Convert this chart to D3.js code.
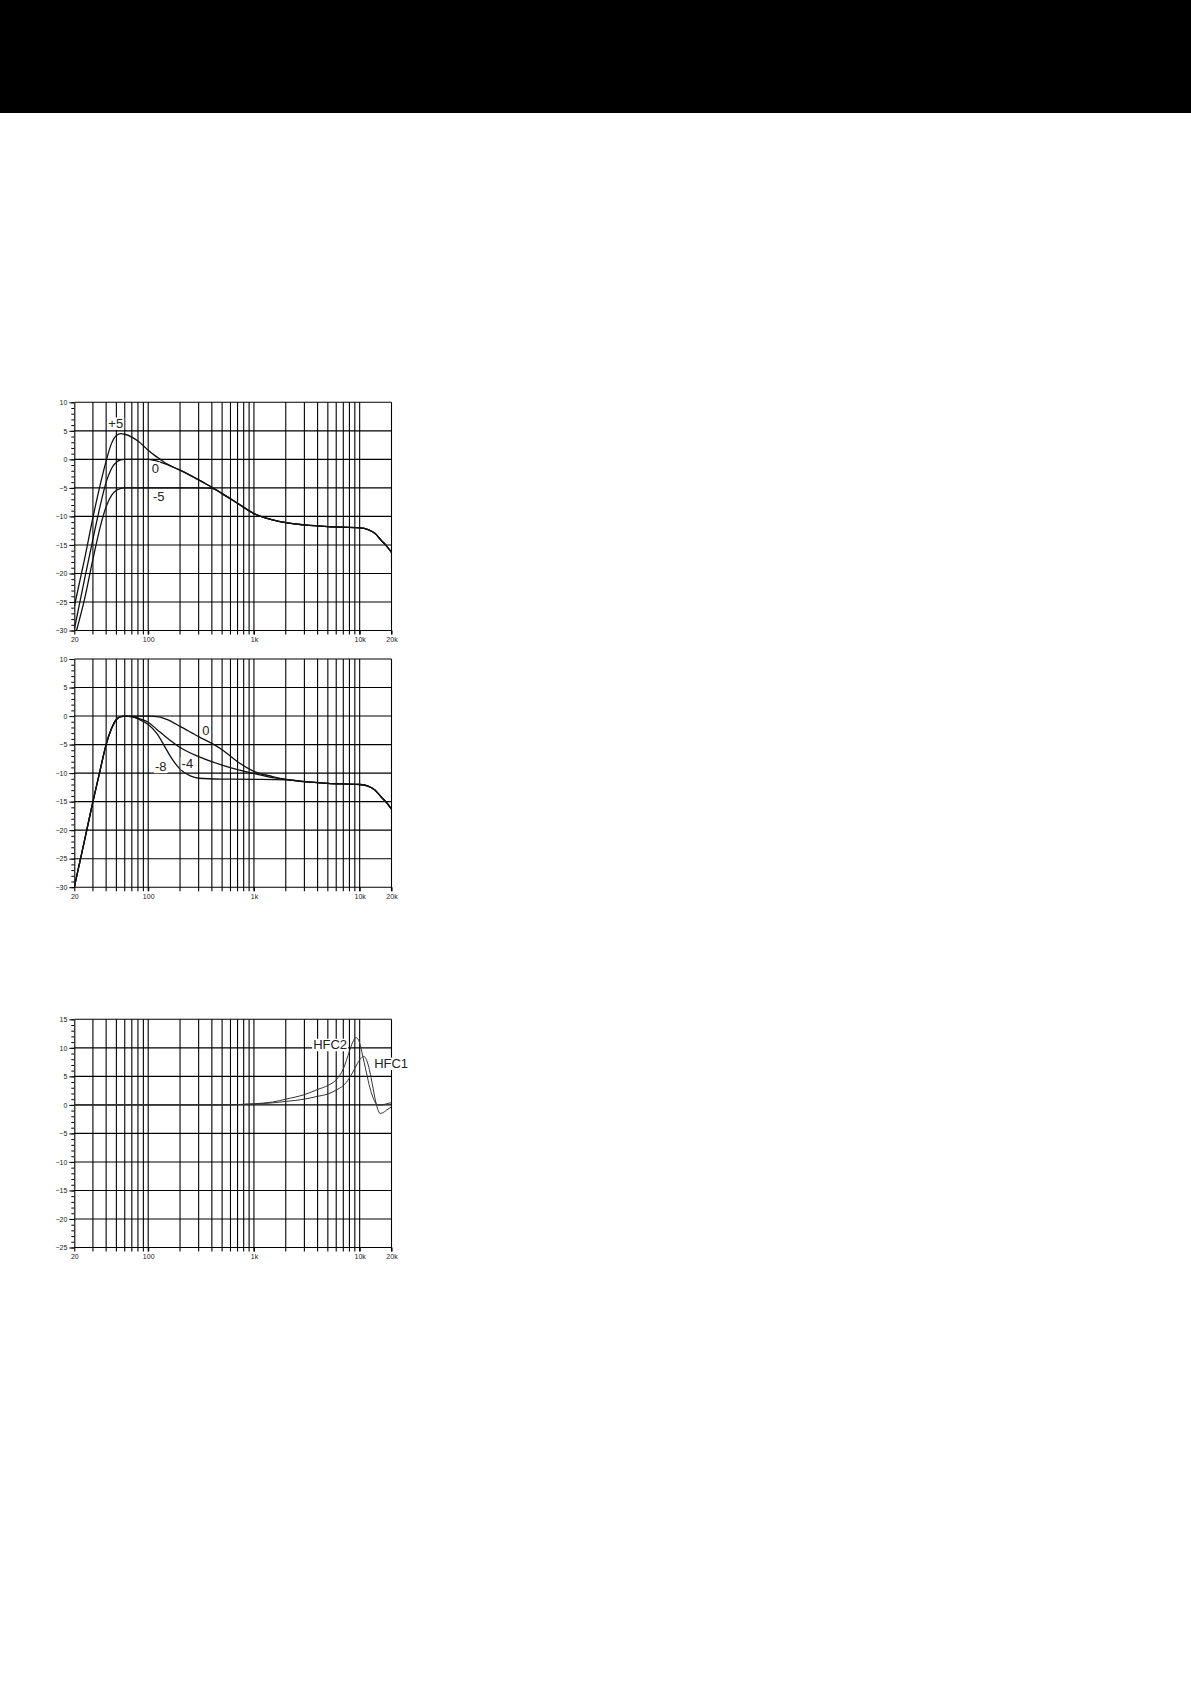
<!DOCTYPE html>
<html lang="en">
<head>
<meta charset="utf-8">
<title>frequency response</title>
<script src="https://cdnjs.cloudflare.com/ajax/libs/d3/7.8.5/d3.min.js"></script>
<style>
  body { margin: 0; background: #fff; }
  svg { display: block; }
</style>
</head>
<body>
<script>
// values, [Hz, dB]
var xTickVals = [20, 100, 1000, 10000, 20000];
var xTickLabels = ["20", "100", "1k", "10k", "20k"];
var gridFreqs = [30, 40, 50, 60, 70, 80, 90, 100, 200, 300, 400, 500, 600, 700, 800, 900,
                 1000, 2000, 3000, 4000, 5000, 6000, 7000, 8000, 9000, 10000, 20000];
var yTicksA = [10, 5, 0, -5, -10, -15, -20, -25, -30];
var yTicksB = [15, 10, 5, 0, -5, -10, -15, -20, -25];

// top: bass level
var bassPlus5 = [[20,-25.8],[25,-17.5],[30,-10.2],[35,-4.6],[40,-0.3],[45,2.8],[50,4.2],[55,4.5],[60,4.4],
  [70,3.9],[80,3.2],[90,2.4],[100,1.6],[115,0.7],[130,0.0],[150,-0.8],[200,-1.9],[300,-3.6],[400,-4.9],
  [500,-6.0],[700,-7.7],[1000,-9.5],[1500,-10.6],[2000,-11.1],[3000,-11.5],[5000,-11.8],[10000,-12],
  [12000,-12.3],[14000,-13],[16000,-14.2],[18000,-15.2],[20000,-16.3]];
var bass0 = [[20,-29.8],[25,-21],[30,-14],[35,-8.3],[40,-4],[45,-1.6],[50,-0.5],[55,-0.1],[60,0],[80,0],
  [100,0],[115,-0.2],[130,-0.5],[150,-0.9],[200,-1.9],[300,-3.6],[400,-4.9],[500,-6.0],[700,-7.7],
  [1000,-9.5],[1500,-10.6],[2000,-11.1],[3000,-11.5],[5000,-11.8],[10000,-12],[12000,-12.3],[14000,-13],
  [16000,-14.2],[18000,-15.2],[20000,-16.3]];
var bassMinus5 = [[21,-30],[25,-24.5],[30,-17.5],[35,-12],[40,-8.3],[45,-6.3],[50,-5.4],[55,-5.1],[60,-5],
  [100,-5],[200,-5],[300,-5],[360,-5.05],[420,-5.2],[500,-6.0],[700,-7.7],[1000,-9.5],[1500,-10.6],
  [2000,-11.1],[3000,-11.5],[5000,-11.8],[10000,-12],[12000,-12.3],[14000,-13],[16000,-14.2],
  [18000,-15.2],[20000,-16.3]];

// middle: low-mid level
var mid0 = [[20,-30],[25,-21.8],[30,-15],[35,-9.6],[40,-5],[45,-2.2],[50,-0.6],[55,-0.1],[60,0],[70,0],
  [100,0],[130,-0.2],[150,-0.6],[200,-1.8],[300,-3.6],[400,-4.8],[500,-5.9],[700,-8],[1000,-9.7],
  [1500,-10.6],[2000,-11.1],[3000,-11.5],[5000,-11.8],[10000,-12],[12000,-12.3],[14000,-13],
  [16000,-14.2],[18000,-15.2],[20000,-16.3]];
var midMinus4 = [[20,-30],[25,-21.8],[30,-15],[35,-9.6],[40,-5],[45,-2.2],[50,-0.6],[55,-0.1],[62,0],
  [70,-0.1],[80,-0.35],[100,-1.1],[120,-2.3],[150,-3.8],[200,-5.5],[300,-7.1],[500,-8.6],[700,-9.4],
  [1000,-10.1],[1500,-10.8],[2000,-11.1],[3000,-11.5],[5000,-11.8],[10000,-12],[12000,-12.3],
  [14000,-13],[16000,-14.2],[18000,-15.2],[20000,-16.3]];
var midMinus8 = [[20,-30],[25,-21.8],[30,-15],[35,-9.6],[40,-5],[45,-2.2],[50,-0.6],[55,-0.1],[62,0],
  [70,-0.15],[80,-0.5],[100,-1.5],[120,-3.0],[140,-5.0],[160,-6.9],[180,-8.3],[200,-9.3],[250,-10.5],
  [300,-10.9],[500,-11.05],[1000,-11.1],[2000,-11.2],[3000,-11.5],[5000,-11.8],[10000,-12],
  [12000,-12.3],[14000,-13],[16000,-14.2],[18000,-15.2],[20000,-16.3]];

// bottom: high-frequency correction
var hfc1 = [[20,0],[200,0],[500,0],[1000,0.15],[1500,0.35],[2000,0.6],[3000,1.0],[4000,1.5],[5000,1.9],
  [6000,2.6],[7000,3.4],[8000,4.7],[9000,6.4],[10000,7.9],[10900,8.5],[11600,7.9],[12200,6.6],
  [12800,4.8],[13400,2.9],[14000,1.0],[14800,-0.7],[15600,-1.5],[16500,-1.4],[18000,-0.9],[20000,-0.35]];
var hfc2 = [[20,0],[200,0],[500,0],[1000,0.2],[1500,0.5],[2000,1.0],[3000,1.8],[4000,2.7],[5000,3.4],
  [6000,4.4],[7000,6.3],[8000,9.4],[8600,11.0],[9200,11.8],[9800,11.3],[10500,9.2],[11600,5.6],
  [12500,3.0],[13300,1.4],[14200,0.3],[15000,-0.05],[16500,0],[18000,0.2],[20000,0.4]];

// curve names and where they sit (Hz, dB of the text baseline)
var namesTop = ["+5", "0", "-5"];
var namesTopAt = [[42, 5.5], [108, -2.35], [111, -7.3]];
var namesMid = ["0", "-4", "-8"];
var namesMidAt = [[324, -3.35], [207, -9.05], [116, -9.65]];
var namesHfc = ["HFC2", "HFC1"];
var namesHfcAt = [[3630, 9.75], [13700, 6.45]];

var W = 1191, H = 1684;
var left = 74.3, right = 391.5, ph = 228.2;

var svg = d3.select("body").append("svg")
    .attr("width", W)
    .attr("height", H);

svg.append("rect")
    .attr("x", 0).attr("y", 0)
    .attr("width", W).attr("height", 113)
    .attr("fill", "#000");

var x = d3.scaleLog().domain([20, 20000]).range([left, right]);

function panel(top, yTicks, series, names, namesAt, lw, col) {
  var bottom = top + ph;
  var y = d3.scaleLinear()
      .domain([yTicks[yTicks.length - 1], yTicks[0]])
      .range([bottom, top]);
  var g = svg.append("g");

  // grid
  g.selectAll("line.h").data(yTicks).enter().append("line")
      .attr("x1", left).attr("x2", right)
      .attr("y1", function(d) { return y(d); })
      .attr("y2", function(d) { return y(d); })
      .attr("stroke", "#000").attr("stroke-width", 1.1);
  g.selectAll("line.v").data(gridFreqs).enter().append("line")
      .attr("x1", function(d) { return x(d); })
      .attr("x2", function(d) { return x(d); })
      .attr("y1", top).attr("y2", bottom)
      .attr("stroke", "#000").attr("stroke-width", 1.1);

  // y axis: minor every dB, major every 5
  var minor = d3.range(y.domain()[0], y.domain()[1] + 1, 1);
  g.append("g")
      .attr("transform", "translate(" + left + ",0)")
      .call(d3.axisLeft(y).tickValues(minor).tickSize(3).tickSizeOuter(0).tickFormat(""))
      .call(function(a) { a.selectAll("line").attr("stroke", "#000"); a.select(".domain").attr("stroke", "#000").attr("stroke-width", 1.1); });
  g.append("g")
      .attr("transform", "translate(" + left + ",0)")
      .call(d3.axisLeft(y).tickValues(yTicks).tickSize(5).tickSizeOuter(0).tickPadding(2))
      .call(function(a) {
        a.select(".domain").remove();
        a.selectAll("line").attr("stroke", "#000");
        a.selectAll("text").attr("font-family", "Liberation Sans, Arial, sans-serif")
          .attr("font-size", 7).attr("fill", "#222");
      });

  // x axis labels
  g.append("g")
      .attr("transform", "translate(0," + bottom + ")")
      .call(d3.axisBottom(x).tickValues(xTickVals).tickSize(4).tickPadding(3)
            .tickFormat(function(d, i) { return xTickLabels[i]; }))
      .call(function(a) {
        a.select(".domain").remove();
        a.selectAll("line").attr("stroke", "#000").attr("stroke-width", 1.1);
        a.selectAll("text").attr("font-family", "Liberation Sans, Arial, sans-serif")
          .attr("font-size", 7).attr("fill", "#222");
      });
  g.selectAll("line.tk").data(gridFreqs).enter().append("line")
      .attr("x1", function(d) { return x(d); })
      .attr("x2", function(d) { return x(d); })
      .attr("y1", bottom).attr("y2", bottom + 4)
      .attr("stroke", "#000").attr("stroke-width", 1.1);

  // curves
  var clipId = "clip" + Math.round(top);
  svg.append("clipPath").attr("id", clipId).append("rect")
      .attr("x", left).attr("y", top - 2).attr("width", right - left + 1).attr("height", ph + 3);
  var line = d3.line()
      .x(function(d) { return x(d[0]); })
      .y(function(d) { return y(d[1]); })
      .curve(d3.curveMonotoneX);
  g.selectAll("path.curve").data(series).enter().append("path")
      .attr("class", "curve")
      .attr("clip-path", "url(#" + clipId + ")")
      .attr("d", line)
      .attr("fill", "none")
      .attr("stroke", col)
      .attr("stroke-width", lw)
      .attr("stroke-linejoin", "round");

  // curve names on a white box over the grid
  var lab = g.selectAll("g.name").data(names).enter().append("g").attr("class", "name");
  var txt = lab.append("text")
      .attr("x", function(d, i) { return x(namesAt[i][0]); })
      .attr("y", function(d, i) { return y(namesAt[i][1]); })
      .attr("font-family", "Liberation Sans, Arial, sans-serif")
      .attr("font-size", 13)
      .attr("fill", "#222")
      .text(function(d) { return d; });
  txt.each(function() {
    var b = this.getBBox();
    d3.select(this.parentNode).insert("rect", "text")
        .attr("x", b.x - 1).attr("y", b.y + 1.5)
        .attr("width", b.width + 2).attr("height", b.height - 2.5)
        .attr("fill", "#fff");
  });
}

panel(402.3, yTicksA, [bassPlus5, bass0, bassMinus5], namesTop, namesTopAt, 1.3, "#111");
panel(659, yTicksA, [mid0, midMinus4, midMinus8], namesMid, namesMidAt, 1.3, "#111");
panel(1019.3, yTicksB, [hfc1, hfc2], namesHfc, namesHfcAt, 1.0, "#333");
</script>
</body>
</html>
